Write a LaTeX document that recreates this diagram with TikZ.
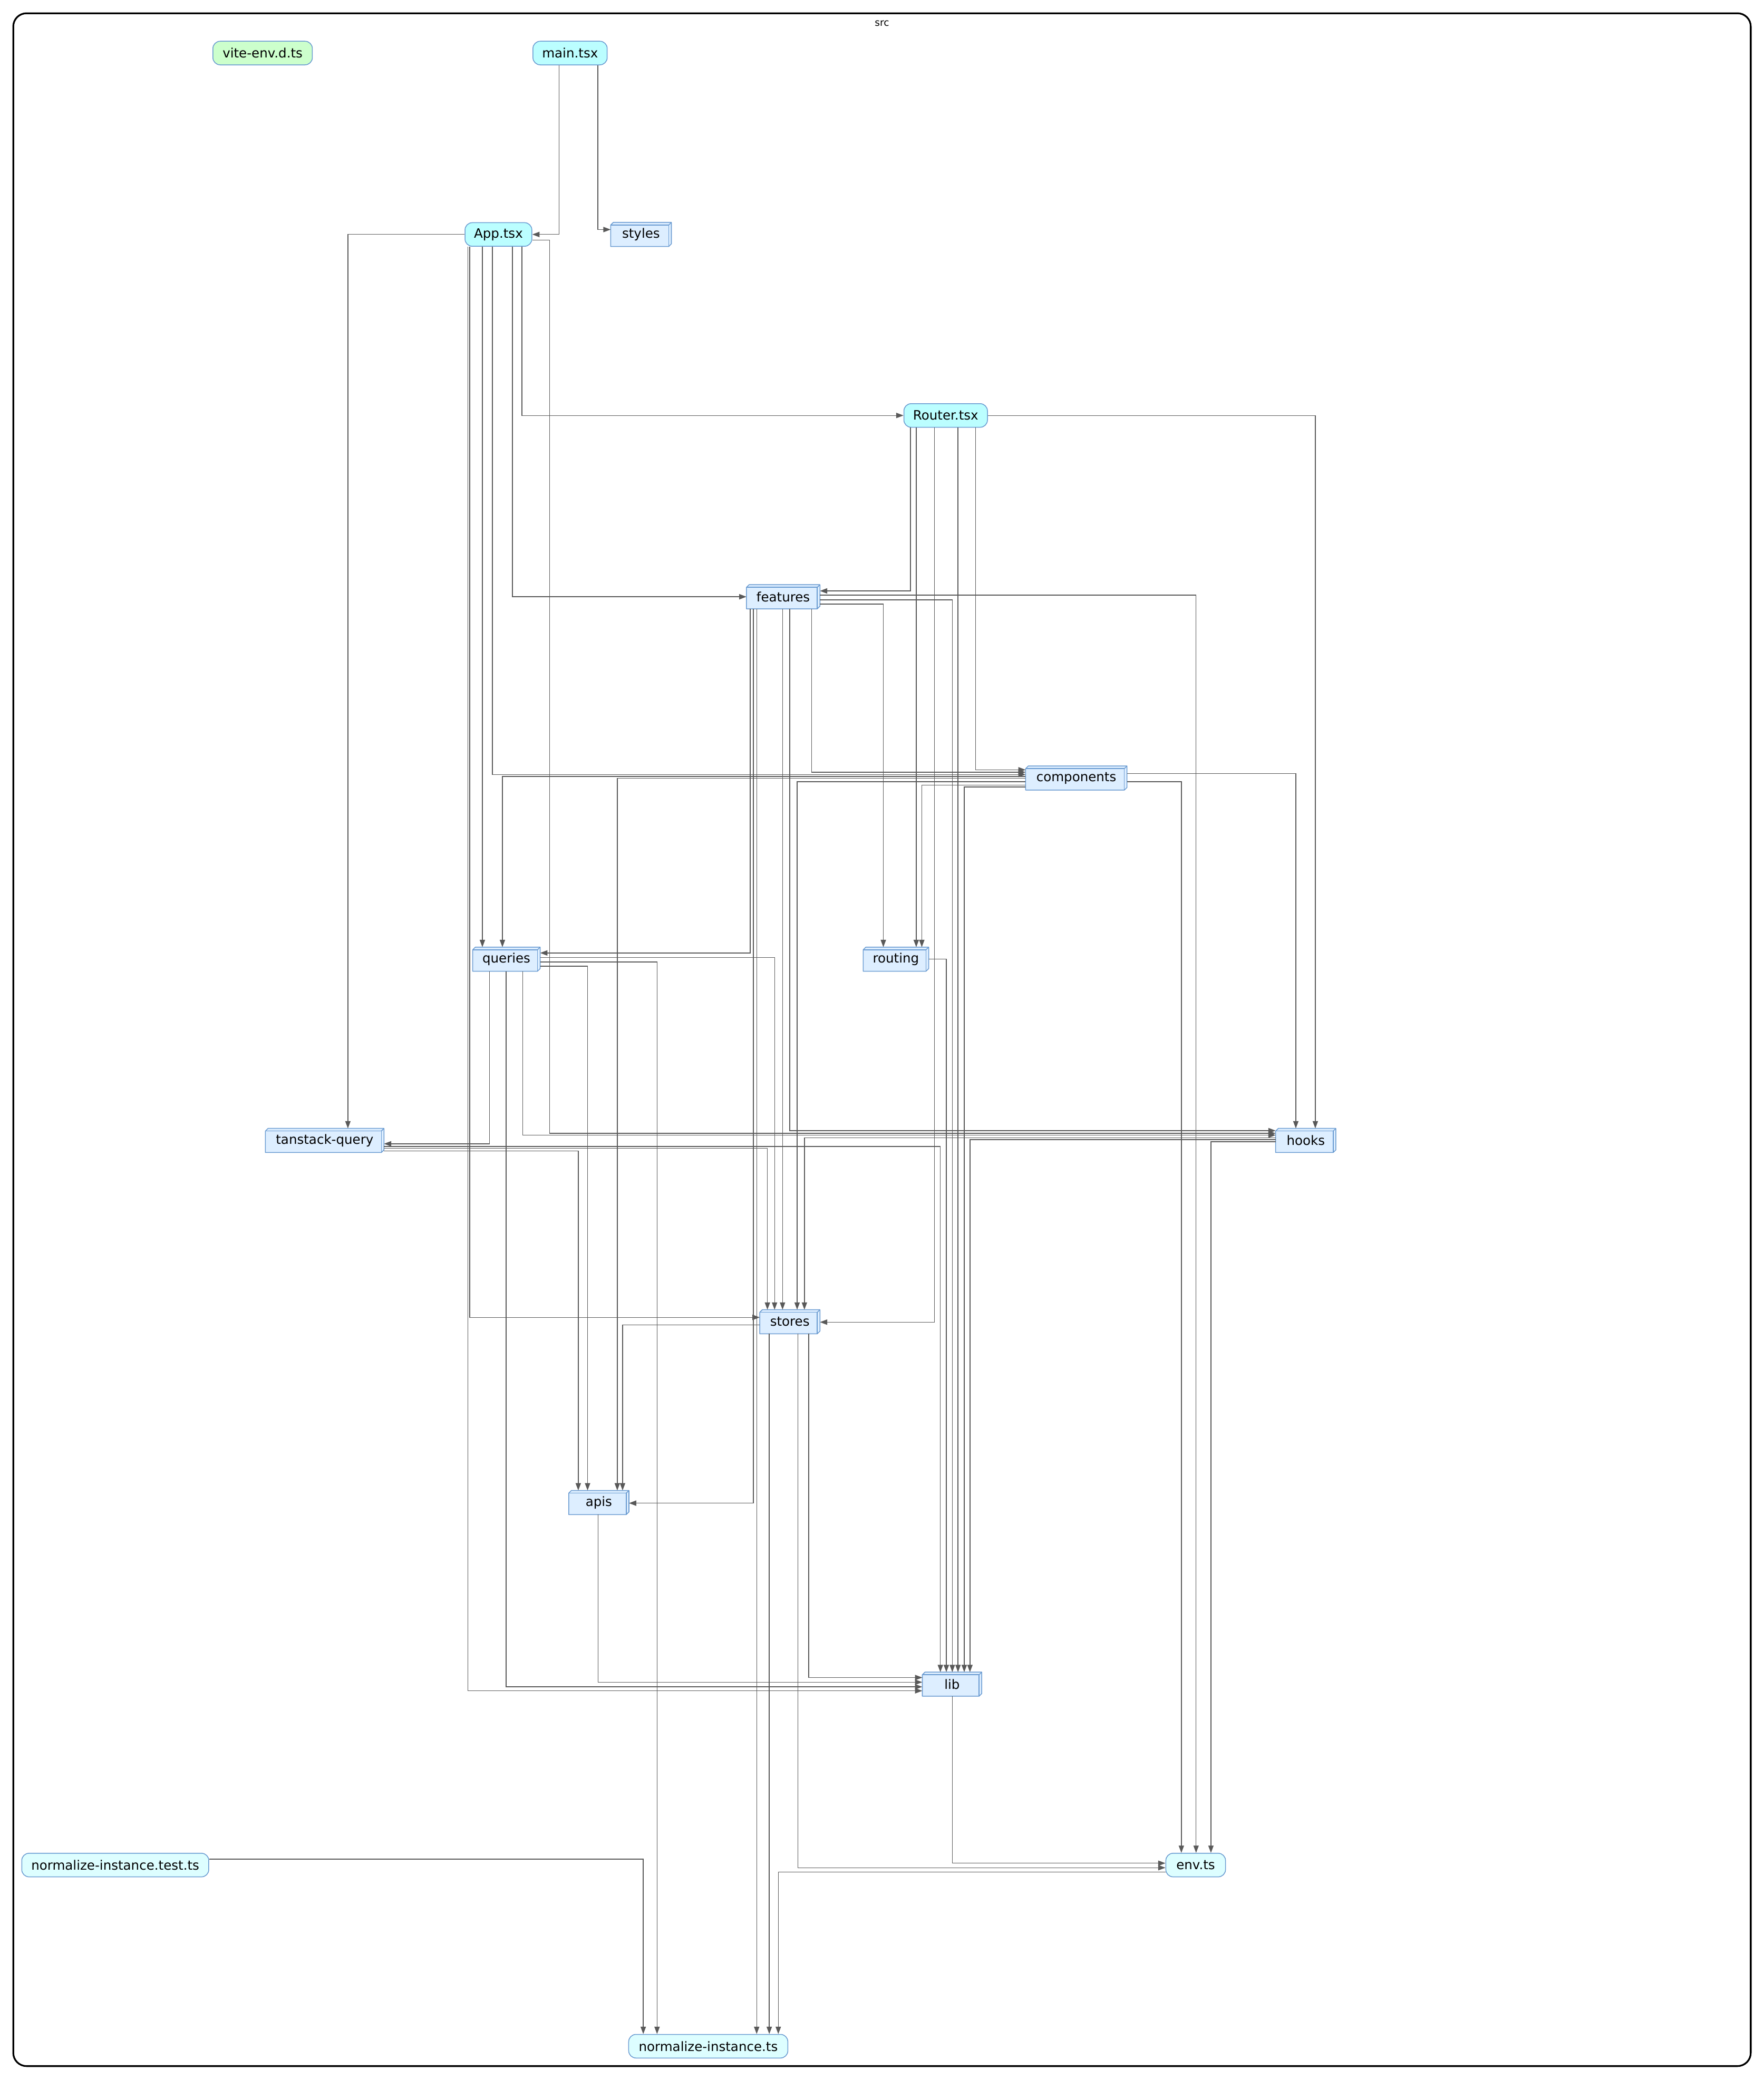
\documentclass[tikz,border=0pt]{standalone}
\usepackage{fontspec}
\setmainfont{DejaVu Sans}
\usetikzlibrary{arrows.meta,calc}
\pgfdeclarelayer{bg}
\pgfsetlayers{bg,main}
\definecolor{edgecol}{HTML}{595959}
\definecolor{bordcol}{HTML}{6A9BD1}
\definecolor{folderfill}{HTML}{DDEEFF}
\definecolor{tsxfill}{HTML}{BBFEFF}
\definecolor{tsfill}{HTML}{DDFEFF}
\definecolor{dtsfill}{HTML}{CCFFCC}
\tikzset{
  lbl/.style={font=\fontsize{9.75}{11}\selectfont, inner sep=0pt, minimum height=17.8pt},
  filenode/.style={lbl, rectangle, rounded corners=5.5pt, draw=bordcol, line width=0.6pt},
  tsxnode/.style={filenode, fill=tsxfill},
  tsnode/.style={filenode, fill=tsfill},
  dtsnode/.style={filenode, fill=dtsfill},
  foldnode/.style={lbl, rectangle},
  fb/.style={draw=bordcol, line width=0.6pt, line join=round},
  dep/.style={draw=edgecol, line width=0.55pt, -{Triangle[length=5.5pt,width=4pt]}},
  clusterbox/.style={draw=black, line width=1.3pt, rounded corners=10pt, inner sep=0pt},
}
\newcommand\fldrbox[1]{%
  \begin{pgfonlayer}{bg}
  \fill[folderfill] (#1.south west) -- ($(#1.north west)+(0,2)$) -- ($(#1.north west)+(2,0)$) -- (#1.north east) -- ($(#1.south east)+(0,-2)$) -- ($(#1.south east)+(-2,0)$) -- cycle;
  \end{pgfonlayer}
  \draw[fb] (#1.south west) -- ($(#1.north west)+(0,2)$) -- ($(#1.north west)+(2,0)$) -- (#1.north east) -- ($(#1.south east)+(0,-2)$) -- ($(#1.south east)+(-2,0)$) -- cycle;
  \draw[fb] ($(#1.north west)+(0,2)$) -- ($(#1.north east)+(-2,2)$) -- ($(#1.south east)+(-2,0)$);
  \draw[fb] ($(#1.north east)+(-2,2)$) -- (#1.north east);
}
\begin{document}
\begin{tikzpicture}[x=1pt,y=-1pt]
\useasboundingbox (0,0) rectangle (1330,1568.5);
\node[clusterbox, minimum width=1310pt, minimum height=1548pt] (src) at (665,784) {};
\node[font=\fontsize{7.4}{9}\selectfont, anchor=base, inner sep=0pt] (srclbl) at (665,19.5) {src};

% nodes
\node[dtsnode, minimum width=75pt] (vite) at (198,40) {vite-env.d.ts};
\node[tsxnode, minimum width=56pt] (main) at (429.8,40) {main.tsx};
\node[tsxnode, minimum width=50.4pt] (app) at (375.8,176.8) {App.tsx};
\node[foldnode, minimum width=45.4pt] (styles) at (483.3,176.8) {styles};
\node[tsxnode, minimum width=63pt] (router) at (713,313.3) {Router.tsx};
\node[foldnode, minimum width=55pt] (features) at (590.5,450) {features};
\node[foldnode, minimum width=76pt] (components) at (811.5,586.7) {components};
\node[foldnode, minimum width=50.5pt] (queries) at (381.8,723.3) {queries};
\node[foldnode, minimum width=49pt] (routing) at (675.5,723.3) {routing};
\node[foldnode, minimum width=89pt] (tanstack) at (244.8,860) {tanstack-query};
\node[foldnode, minimum width=45pt] (hooks) at (984.5,860) {hooks};
\node[foldnode, minimum width=45pt] (stores) at (595.5,996.7) {stores};
\node[foldnode, minimum width=45pt] (apis) at (451.5,1133) {apis};
\node[foldnode, minimum width=44.4pt] (lib) at (717.8,1270) {lib};
\node[tsnode, minimum width=141pt] (test) at (86.9,1406.4) {normalize-instance.test.ts};
\node[tsnode, minimum width=45pt] (env) at (901.5,1406.4) {env.ts};
\node[tsnode, minimum width=120pt] (norm) at (534,1543) {normalize-instance.ts};

\fldrbox{styles}
\fldrbox{features}
\fldrbox{components}
\fldrbox{queries}
\fldrbox{routing}
\fldrbox{tanstack}
\fldrbox{hooks}
\fldrbox{stores}
\fldrbox{apis}
\fldrbox{lib}

% main.tsx
\draw[dep] ([xshift=-8.2pt]main.south) |- (app.east);
\draw[dep] ([xshift=20.9pt]main.south) |- ([yshift=3.7pt]styles.west);
% App.tsx
\draw[dep] (app.west) -| ([xshift=17.5pt]tanstack.north);
\draw[dep] ([xshift=17.7pt]app.south) |- (router.west);
\draw[dep] ([xshift=10.6pt]app.south) |- (features.west);
\draw[dep] ([xshift=-4.6pt]app.south) |- ([yshift=2.7pt]components.west);
\draw[dep] ([xshift=-12.1pt]app.south) -- ([xshift=-18.1pt]queries.north);
\draw[dep] ([xshift=-21.6pt]app.south) |- ([yshift=3.3pt]stores.west);
\draw[dep] ([xshift=-23.1pt]app.south) |- ([yshift=-5pt]lib.west);
\draw[dep] ([yshift=-4.2pt]app.east) -- ++(13,0) |- ([yshift=5.4pt]hooks.west);
% Router.tsx
\draw[dep] ([xshift=-26.5pt]router.south) |- ([yshift=4.4pt]features.east);
\draw[dep] ([xshift=-22.2pt]router.south) -- ([xshift=15.3pt]routing.north);
\draw[dep] ([xshift=-8.5pt]router.south) |- ([yshift=-0.3pt]stores.east);
\draw[dep] ([xshift=9.3pt]router.south) -- ([xshift=4.5pt]lib.north);
\draw[dep] ([xshift=22.6pt]router.south) |- ([yshift=6.2pt]components.west);
\draw[dep] (router.east) -| ([xshift=7.2pt]hooks.north);
% features
\draw[dep] ([yshift=1.3pt]features.east) -| ([xshift=0.3pt]env.north);
\draw[dep] ([yshift=-2.4pt]features.east) -| ([xshift=0.2pt]lib.north);
\draw[dep] ([yshift=-5.5pt]features.east) -| ([xshift=-9.5pt]routing.north);
\draw[dep] ([xshift=21.5pt]features.south) |- ([yshift=4.4pt]components.west);
\draw[dep] ([xshift=-24.9pt]features.south) |- ([yshift=4.7pt]queries.east);
\draw[dep] ([xshift=-22.5pt]features.south) |- ([yshift=-0.5pt]apis.east);
\draw[dep] ([xshift=-20pt]features.south) -- ([xshift=36.5pt]norm.north);
\draw[dep] ([xshift=-0.5pt]features.south) -- ([xshift=-5.5pt]stores.north);
\draw[dep] ([xshift=4.9pt]features.south) |- ([yshift=7.4pt]hooks.west);
% components
\draw[dep] ([yshift=3.3pt]components.east) -| ([xshift=-7.5pt]hooks.north);
\draw[dep] ([yshift=-2.8pt]components.east) -| ([xshift=-10.8pt]env.north);
\draw[dep] ([yshift=1.2pt]components.west) -| ([xshift=-3pt]queries.north);
\draw[dep] ([yshift=-0.3pt]components.west) -| ([xshift=13.9pt]apis.north);
\draw[dep] ([yshift=-2.8pt]components.west) -| ([xshift=5.5pt]stores.north);
\draw[dep] ([yshift=-5.3pt]components.west) -| ([xshift=19.5pt]routing.north);
\draw[dep] ([yshift=-6.8pt]components.west) -| ([xshift=9.2pt]lib.north);
% queries
\draw[dep] ([yshift=1.3pt]queries.east) -| ([xshift=-11.5pt]stores.north);
\draw[dep] ([yshift=-2.1pt]queries.east) -| ([xshift=-38.6pt]norm.north);
\draw[dep] ([yshift=-5.3pt]queries.east) -| ([xshift=-8.5pt]apis.north);
\draw[dep] ([xshift=-12.8pt]queries.south) |- ([yshift=-2.5pt]tanstack.east);
\draw[dep] ([xshift=-0.2pt]queries.south) |- ([yshift=-2pt]lib.west);
\draw[dep] ([xshift=12.2pt]queries.south) |- ([yshift=4pt]hooks.west);
% routing
\draw[dep] (routing.east) -| ([xshift=-4.3pt]lib.north);
% tanstack-query
\draw[dep] ([yshift=-4.5pt]tanstack.east) -| ([xshift=-8.8pt]lib.north);
\draw[dep] ([yshift=-6pt]tanstack.east) -| ([xshift=-16.9pt]stores.north);
\draw[dep] ([yshift=-7.8pt]tanstack.east) -| ([xshift=-15.5pt]apis.north);
% hooks
\draw[dep] ([yshift=2pt]hooks.west) -| ([xshift=11pt]stores.north);
\draw[dep] ([yshift=0.7pt]hooks.west) -| ([xshift=13.5pt]lib.north);
\draw[dep] ([yshift=-1pt]hooks.west) -| ([xshift=11.5pt]env.north);
% stores
\draw[dep] ([yshift=-2.3pt]stores.west) -| ([xshift=17.9pt]apis.north);
\draw[dep] ([xshift=-15.5pt]stores.south) -- ([xshift=46pt]norm.north);
\draw[dep] ([xshift=6.2pt]stores.south) |- ([yshift=-2pt]env.west);
\draw[dep] ([xshift=14.2pt]stores.south) |- ([yshift=5pt]lib.west);
% apis
\draw[dep] ([xshift=-0.5pt]apis.south) |- ([yshift=1.5pt]lib.west);
% lib
\draw[dep] ([xshift=0.2pt]lib.south) |- ([yshift=1.4pt]env.west);
% env.ts
\draw[dep] ([yshift=-5.2pt]env.west) -| ([xshift=52.8pt]norm.north);
% normalize-instance.test.ts
\draw[dep] ([yshift=4.4pt]test.east) -| ([xshift=-49pt]norm.north);
\end{tikzpicture}
\end{document}
